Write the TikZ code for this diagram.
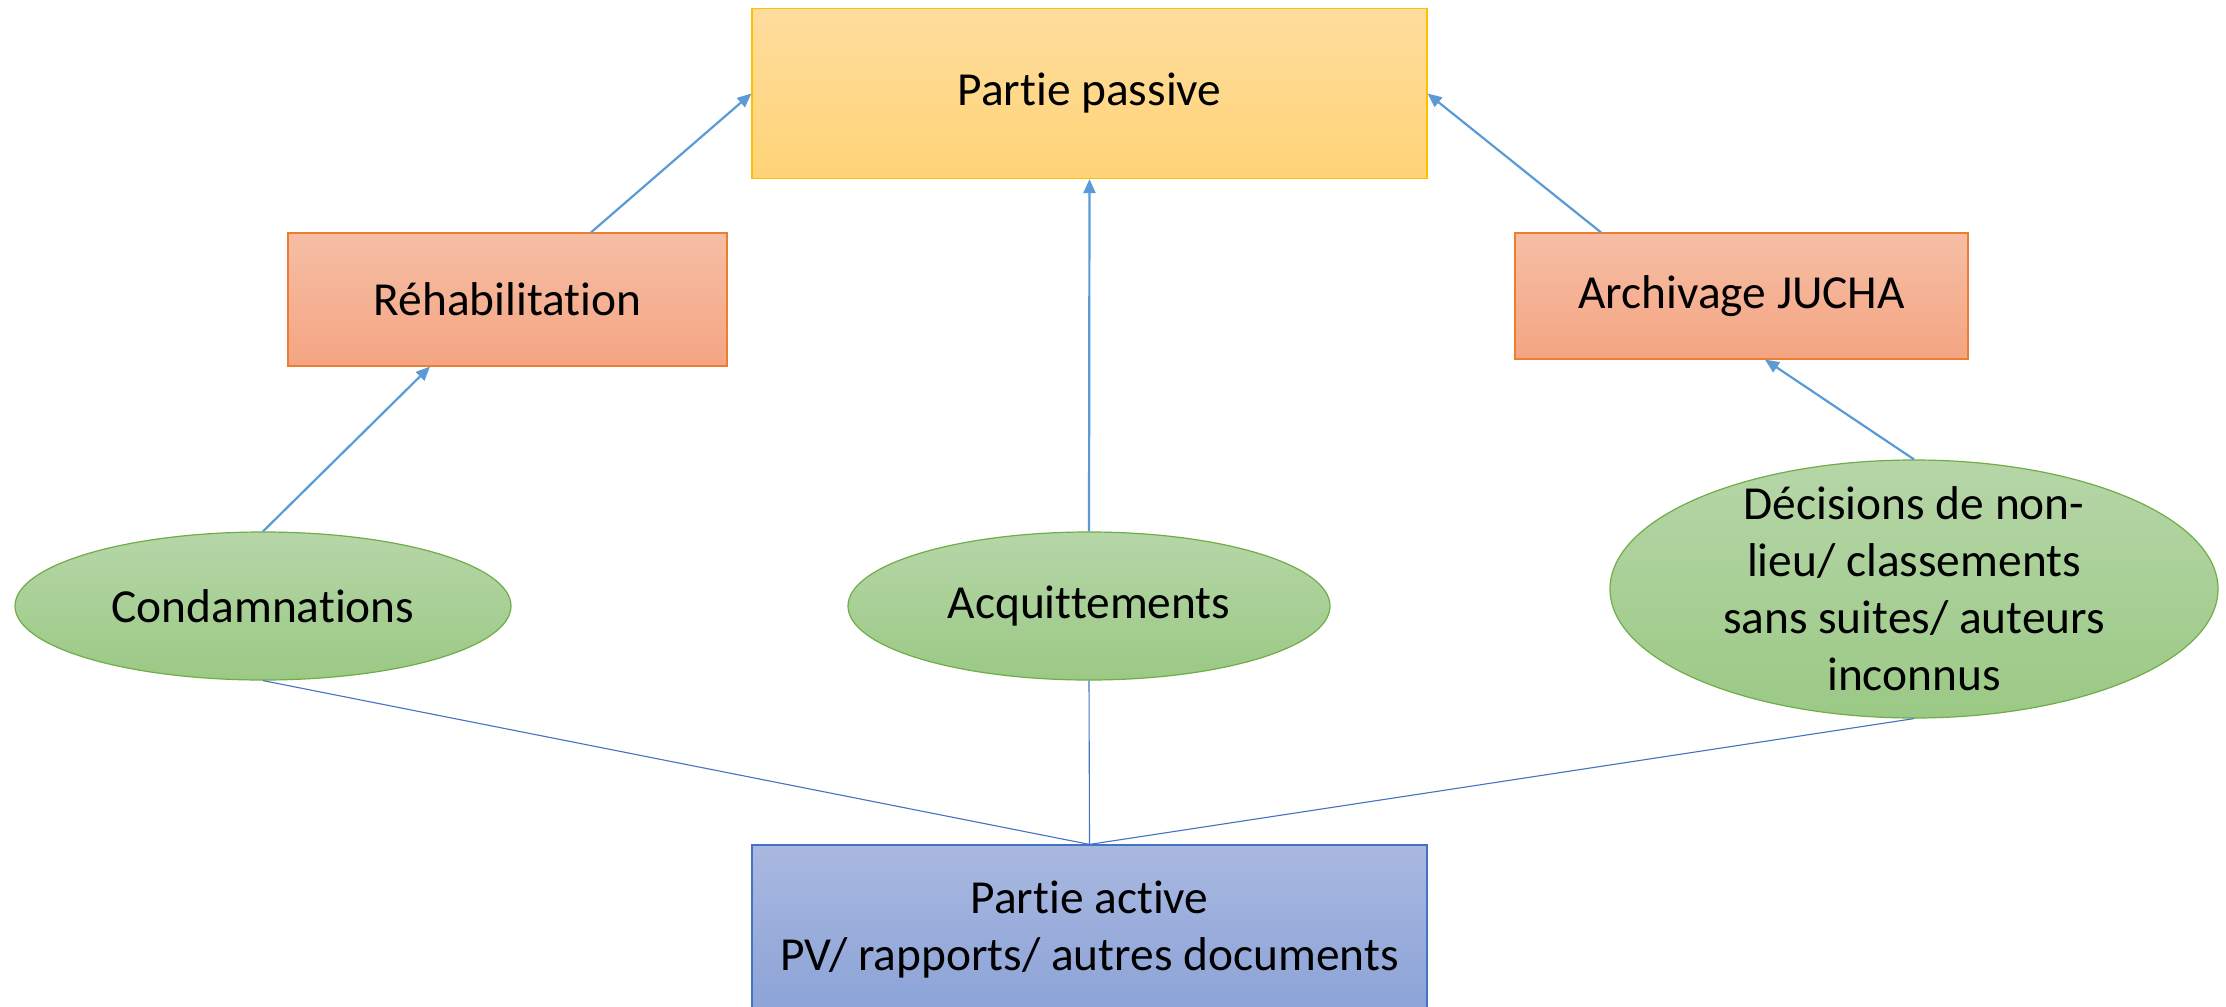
\documentclass[tikz,border=0pt]{standalone}
\usepackage{fontspec}
\setmainfont{Carlito}[Ligatures=NoCommon]
\usetikzlibrary{shapes.geometric,arrows.meta}
\definecolor{arrblue}{HTML}{5B9BD5}
\definecolor{lineblue}{HTML}{4472C4}
\definecolor{ybord}{HTML}{FFC000}
\definecolor{ytop}{HTML}{FEDC9D}
\definecolor{ybot}{HTML}{FFD477}
\definecolor{obord}{HTML}{ED7D31}
\definecolor{otop}{HTML}{F6BEA5}
\definecolor{obot}{HTML}{F4A582}
\definecolor{gbord}{HTML}{70AD47}
\definecolor{gtop}{HTML}{B6D6A8}
\definecolor{gbot}{HTML}{9BC985}
\definecolor{btop}{HTML}{A9B8E0}
\definecolor{bbot}{HTML}{8BA3D7}
\tikzset{
  lbl/.style={font=\fontsize{23.7pt}{28.5pt}\selectfont, align=center, inner sep=0pt},
  ybox/.style={lbl, rectangle, draw=ybord, line width=0.6pt, top color=ytop, bottom color=ybot},
  obox/.style={lbl, rectangle, draw=obord, line width=0.6pt, top color=otop, bottom color=obot},
  gell/.style={lbl, ellipse, draw=gbord, line width=0.6pt, top color=gtop, bottom color=gbot},
  bbox/.style={lbl, rectangle, draw=lineblue, line width=0.6pt, top color=btop, bottom color=bbot},
  arr/.style={draw=arrblue, line width=1.1pt, -{Triangle[length=7pt,width=6pt]}},
  thin/.style={draw=lineblue, line width=0.55pt}
}
\begin{document}
\begin{tikzpicture}[x=0.5pt,y=-0.5pt]
\useasboundingbox (0,0) rectangle (2226,1006);
\clip (0,0) rectangle (2226,1006);
\fill[white] (0,0) rectangle (2226,1006);
\node[ybox, minimum width=337.5pt, minimum height=85pt] (passive) at (1089.5,93.5) {Partie passive};
\node[obox, minimum width=219.5pt, minimum height=66.5pt] (rehab) at (507.5,299.5) {Réhabilitation};
\node[obox, minimum width=226.5pt, minimum height=63pt] (archi) at (1741.5,296) {Archivage JUCHA};
\node[gell, minimum width=248pt, minimum height=74pt] (cond) at (263,606) {Condamnations};
\node[gell, minimum width=241pt, minimum height=74pt] (acq) at (1089,606) {Acquittements};
\node[gell, inner ysep=-16pt, minimum width=304pt, minimum height=129pt] (dec) at (1914,589) {Décisions de non-\\lieu/ classements\\sans suites/ auteurs\\inconnus};
\node[bbox, minimum width=337.5pt, minimum height=85pt] (active) at (1089.5,930) {Partie active\\PV/ rapports/ autres documents};
\draw[arr] ([xshift=41.75pt]rehab.north) -- (passive.west);
\draw[arr] ([xshift=-70.25pt]archi.north) -- (passive.east);
\draw[arr] (acq.north) -- (passive.south);
\draw[arr] (cond.north) -- ([xshift=-38.75pt]rehab.south);
\draw[arr] (dec.north) -- ([xshift=11.75pt]archi.south);
\draw[thin] (cond.south) -- (active.north);
\draw[thin] (acq.south) -- (active.north);
\draw[thin] (dec.south) -- (active.north);
\end{tikzpicture}
\end{document}
